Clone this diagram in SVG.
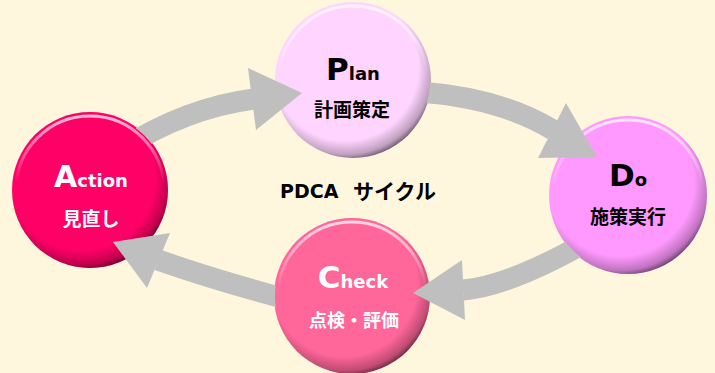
<svg xmlns="http://www.w3.org/2000/svg" width="715" height="373" viewBox="0 0 715 373">
  <style>
    .lat { font-family: "DejaVu Sans", "Noto Sans CJK JP", sans-serif; font-weight: bold; }
    .jp { font-family: "Noto Sans CJK JP", sans-serif; font-weight: bold; font-size: 19px; }
    .shaft { fill: none; stroke: #BFBFBF; stroke-width: 21; }
    .head { fill: #BFBFBF; }
    .rim { fill: url(#rimGrad); }
    .hl { fill: none; stroke: url(#hlGrad); stroke-width: 3; }
  </style>
  <defs>
    <radialGradient id="rimGrad" cx="0.45" cy="0.42" r="0.6">
      <stop offset="0.78" stop-color="#000" stop-opacity="0"/>
      <stop offset="0.93" stop-color="#000" stop-opacity="0.25"/>
      <stop offset="1" stop-color="#000" stop-opacity="0.6"/>
    </radialGradient>
    <linearGradient id="hlGrad" x1="0" y1="0" x2="0" y2="1">
      <stop offset="0" stop-color="#fff" stop-opacity="0.75"/>
      <stop offset="0.45" stop-color="#fff" stop-opacity="0"/>
    </linearGradient>
    <mask id="mA" maskUnits="userSpaceOnUse" x="0" y="0" width="715" height="373">
      <rect width="715" height="373" fill="#fff"/>
      <circle cx="90" cy="190" r="77" fill="#000"/>
    </mask>
    <mask id="mP" maskUnits="userSpaceOnUse" x="0" y="0" width="715" height="373">
      <rect width="715" height="373" fill="#fff"/>
      <circle cx="353" cy="80" r="77" fill="#000"/>
    </mask>
    <mask id="mD" maskUnits="userSpaceOnUse" x="0" y="0" width="715" height="373">
      <rect width="715" height="373" fill="#fff"/>
      <circle cx="628" cy="195" r="78" fill="#000"/>
    </mask>
    <mask id="mC" maskUnits="userSpaceOnUse" x="0" y="0" width="715" height="373">
      <rect width="715" height="373" fill="#fff"/>
      <circle cx="352" cy="296" r="77" fill="#000"/>
    </mask>
  </defs>

  <rect width="715" height="373" fill="#FEF7DE"/>

  <g id="plan">
    <circle cx="353" cy="80" r="78" fill="#FFD5FF"/>
    <circle class="rim" cx="353" cy="80" r="78"/>
    <circle class="hl" cx="353" cy="80" r="74"/>
    <text class="lat" x="353" y="80" text-anchor="middle" fill="#000"><tspan font-size="31">P</tspan><tspan font-size="18">lan</tspan></text>
    <text class="jp" x="352" y="117" text-anchor="middle" fill="#000">計画策定</text>
  </g>

  <g id="do">
    <circle cx="628" cy="195" r="79" fill="#FF99FF"/>
    <circle class="rim" cx="628" cy="195" r="79"/>
    <circle class="hl" cx="628" cy="195" r="75"/>
    <text class="lat" x="628" y="186" text-anchor="middle" fill="#000"><tspan font-size="31">D</tspan><tspan font-size="18">o</tspan></text>
    <text class="jp" x="628" y="224" text-anchor="middle" fill="#000">施策実行</text>
  </g>

  <g id="check">
    <circle cx="352" cy="296" r="78" fill="#FF6699"/>
    <circle class="rim" cx="352" cy="296" r="78"/>
    <circle class="hl" cx="352" cy="296" r="74"/>
    <text class="lat" x="353" y="288" text-anchor="middle" fill="#fff"><tspan font-size="31">C</tspan><tspan font-size="18">heck</tspan></text>
    <text class="jp" x="354" y="327" text-anchor="middle" fill="#fff" style="font-size:18px">点検・評価</text>
  </g>

  <g id="action">
    <circle cx="90" cy="190" r="78" fill="#FF0066"/>
    <circle class="rim" cx="90" cy="190" r="78"/>
    <circle class="hl" cx="90" cy="190" r="74"/>
    <text class="lat" x="91" y="187" text-anchor="middle" fill="#fff"><tspan font-size="30">A</tspan><tspan font-size="18">ction</tspan></text>
    <text class="jp" x="91" y="226" text-anchor="middle" fill="#fff">見直し</text>
  </g>

  <g id="title">
    <text class="lat" x="280" y="198" font-size="19" fill="#000">PDCA</text>
    <text class="jp" x="353" y="199" style="font-size:21px" fill="#000">サイクル</text>
  </g>

  <g id="connectors">
    <g mask="url(#mA)">
      <path class="shaft" d="M 120 150 Q 185 108 254 99"/>
      <polygon class="head" points="248,68 256,130 302,93"/>
    </g>
    <g mask="url(#mP)">
      <path class="shaft" d="M 420 92 Q 500 98 553 130"/>
      <polygon class="head" points="566,103 538,158 597,157"/>
    </g>
    <g mask="url(#mD)">
      <path class="shaft" d="M 590 240 Q 510 286 463 290"/>
      <polygon class="head" points="462,260 465,320 413,293"/>
    </g>
    <g mask="url(#mC)">
      <path class="shaft" d="M 290 300 Q 215 280 158 260"/>
      <polygon class="head" points="170,233 147,288 113,242"/>
    </g>
  </g>
</svg>
